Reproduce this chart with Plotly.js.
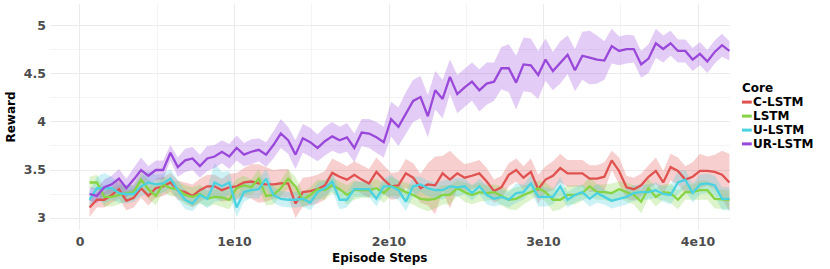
<!DOCTYPE html>
<html>
<head>
<meta charset="utf-8">
<script src="https://cdn.plot.ly/plotly-3.0.1.min.js"></script>
<style>
  html, body { margin: 0; padding: 0; background: #fff; }
  #chart { width: 830px; height: 269px; }
</style>
</head>
<body>
<div id="chart"></div>
<script>
// Episode steps (in units of 1e8)
const stepsE8 = [6.20,10.96,15.72,20.48,25.24,30.00,34.76,39.52,44.28,49.04,53.80,58.56,63.32,68.08,72.84,77.60,82.36,87.12,91.88,96.64,101.40,106.16,110.92,115.68,120.44,125.20,129.96,134.72,139.48,144.24,149.00,153.76,158.52,163.28,168.04,172.80,177.56,182.32,187.08,191.84,196.60,201.36,206.12,210.88,215.64,220.40,225.16,229.92,234.68,239.44,244.20,248.96,253.72,258.48,263.24,268.00,272.76,277.52,282.28,287.04,291.80,296.56,301.32,306.08,310.84,315.60,320.36,325.12,329.88,334.64,339.40,344.16,348.92,353.68,358.44,363.20,367.96,372.72,377.48,382.24,387.00,391.76,396.52,401.28,406.04,410.80,415.56,420.32];

const seriesNames = ["C-LSTM", "LSTM", "U-LSTM", "UR-LSTM"];

const cLstm = [3.11,3.19,3.19,3.24,3.30,3.18,3.21,3.31,3.23,3.31,3.33,3.37,3.29,3.27,3.23,3.29,3.33,3.33,3.29,3.32,3.33,3.37,3.38,3.36,3.35,3.35,3.36,3.36,3.15,3.27,3.28,3.30,3.34,3.47,3.43,3.40,3.45,3.40,3.36,3.48,3.40,3.33,3.34,3.465,3.42,3.31,3.35,3.34,3.465,3.40,3.465,3.42,3.44,3.465,3.38,3.28,3.32,3.45,3.50,3.42,3.48,3.30,3.40,3.44,3.52,3.465,3.465,3.465,3.41,3.41,3.43,3.60,3.49,3.32,3.30,3.34,3.43,3.49,3.37,3.53,3.49,3.40,3.43,3.49,3.49,3.48,3.45,3.37];
const cLstmSpread = [0.1,0.08,0.08,0.08,0.1,0.1,0.1,0.1,0.1,0.1,0.1,0.1,0.1,0.1,0.12,0.12,0.12,0.12,0.12,0.14,0.14,0.15,0.18,0.2,0.18,0.15,0.15,0.15,0.15,0.15,0.15,0.15,0.15,0.15,0.15,0.14,0.14,0.15,0.15,0.15,0.15,0.14,0.14,0.15,0.15,0.15,0.22,0.3,0.18,0.3,0.16,0.14,0.14,0.14,0.14,0.12,0.12,0.12,0.12,0.12,0.14,0.15,0.14,0.15,0.15,0.14,0.14,0.14,0.14,0.14,0.15,0.1,0.14,0.12,0.12,0.12,0.12,0.14,0.12,0.14,0.14,0.14,0.15,0.18,0.15,0.18,0.25,0.3];

const lstm = [3.37,3.37,3.22,3.22,3.24,3.26,3.27,3.40,3.30,3.23,3.35,3.31,3.30,3.24,3.22,3.25,3.20,3.22,3.215,3.19,3.31,3.34,3.32,3.41,3.23,3.24,3.31,3.41,3.33,3.19,3.24,3.30,3.29,3.34,3.30,3.24,3.29,3.29,3.29,3.31,3.26,3.33,3.31,3.27,3.24,3.20,3.19,3.20,3.24,3.24,3.31,3.27,3.24,3.27,3.26,3.27,3.23,3.19,3.20,3.24,3.27,3.31,3.27,3.19,3.19,3.24,3.24,3.26,3.33,3.27,3.27,3.26,3.30,3.27,3.24,3.17,3.31,3.22,3.27,3.26,3.19,3.27,3.27,3.29,3.29,3.20,3.195,3.19];
const lstmSpread = [0.06,0.08,0.1,0.1,0.1,0.08,0.08,0.08,0.1,0.1,0.08,0.08,0.08,0.1,0.1,0.1,0.08,0.08,0.1,0.1,0.1,0.1,0.08,0.1,0.1,0.1,0.08,0.1,0.1,0.08,0.08,0.1,0.1,0.08,0.08,0.1,0.1,0.08,0.08,0.1,0.1,0.1,0.08,0.1,0.1,0.1,0.12,0.1,0.1,0.1,0.08,0.1,0.1,0.1,0.08,0.08,0.1,0.1,0.12,0.1,0.08,0.08,0.1,0.12,0.1,0.1,0.1,0.08,0.1,0.08,0.08,0.1,0.08,0.1,0.1,0.12,0.1,0.1,0.08,0.1,0.1,0.08,0.08,0.1,0.1,0.1,0.1,0.1];

const uLstm = [3.19,3.31,3.31,3.31,3.26,3.25,3.25,3.33,3.37,3.35,3.36,3.41,3.29,3.19,3.15,3.24,3.20,3.37,3.33,3.37,3.11,3.27,3.29,3.30,3.41,3.24,3.20,3.19,3.19,3.20,3.16,3.27,3.31,3.38,3.19,3.19,3.30,3.30,3.30,3.20,3.33,3.33,3.29,3.17,3.33,3.35,3.31,3.29,3.29,3.33,3.32,3.33,3.26,3.33,3.24,3.20,3.22,3.19,3.26,3.27,3.36,3.22,3.22,3.22,3.33,3.19,3.24,3.27,3.20,3.26,3.22,3.18,3.20,3.22,3.26,3.27,3.27,3.29,3.25,3.24,3.37,3.40,3.26,3.35,3.36,3.34,3.20,3.20];
const uLstmSpread = [0.08,0.12,0.16,0.12,0.1,0.1,0.08,0.1,0.12,0.1,0.1,0.1,0.1,0.1,0.08,0.08,0.1,0.2,0.15,0.12,0.1,0.1,0.08,0.1,0.1,0.08,0.08,0.08,0.08,0.08,0.08,0.1,0.08,0.1,0.1,0.08,0.08,0.08,0.08,0.08,0.08,0.12,0.1,0.1,0.1,0.08,0.08,0.08,0.1,0.08,0.1,0.08,0.08,0.08,0.1,0.08,0.08,0.08,0.1,0.08,0.08,0.1,0.1,0.08,0.1,0.08,0.08,0.08,0.08,0.1,0.08,0.08,0.08,0.08,0.08,0.08,0.08,0.08,0.08,0.1,0.12,0.1,0.1,0.1,0.1,0.1,0.12,0.12];

const urLstm = [3.25,3.23,3.32,3.35,3.41,3.31,3.40,3.50,3.44,3.50,3.50,3.68,3.53,3.60,3.62,3.54,3.62,3.64,3.69,3.64,3.73,3.66,3.69,3.71,3.66,3.76,3.88,3.81,3.66,3.83,3.79,3.73,3.80,3.85,3.81,3.84,3.73,3.89,3.88,3.84,3.79,4.03,3.95,4.09,4.22,4.26,4.06,4.33,4.24,4.47,4.29,4.36,4.42,4.33,4.40,4.42,4.56,4.56,4.41,4.60,4.59,4.49,4.65,4.53,4.62,4.70,4.54,4.69,4.67,4.65,4.64,4.79,4.74,4.76,4.76,4.60,4.66,4.82,4.76,4.82,4.74,4.74,4.65,4.71,4.63,4.73,4.80,4.74];
const urLstmSpread = [0.07,0.08,0.08,0.09,0.1,0.1,0.12,0.13,0.1,0.1,0.1,0.08,0.1,0.12,0.12,0.12,0.13,0.12,0.12,0.13,0.13,0.12,0.13,0.12,0.13,0.14,0.15,0.14,0.15,0.15,0.15,0.14,0.15,0.15,0.14,0.15,0.15,0.14,0.15,0.16,0.16,0.18,0.2,0.22,0.22,0.22,0.22,0.2,0.2,0.18,0.2,0.2,0.2,0.22,0.22,0.2,0.22,0.25,0.28,0.28,0.28,0.25,0.22,0.2,0.22,0.2,0.22,0.25,0.28,0.25,0.2,0.18,0.15,0.15,0.14,0.14,0.15,0.15,0.14,0.13,0.12,0.12,0.12,0.12,0.12,0.12,0.12,0.1];

const xTickVals = [0, 1e10, 2e10, 3e10, 4e10];
const xTickText = ["0", "1e10", "2e10", "3e10", "4e10"];
const yTickVals = [3, 3.5, 4, 4.5, 5];
const yTickText = ["3", "3.5", "4", "4.5", "5"];

const colors = ["#E0524F", "#86D443", "#4BD2E0", "#9A48DA"];
const fills = ["rgba(224,82,79,0.28)", "rgba(134,212,67,0.28)", "rgba(75,210,224,0.28)", "rgba(154,72,218,0.28)"];

const steps = stepsE8.map(v => v * 1e8);
const means = [cLstm, lstm, uLstm, urLstm];
const spreads = [cLstmSpread, lstmSpread, uLstmSpread, urLstmSpread];

const traces = [];
means.forEach((m, k) => {
  const upper = m.map((v, i) => v + spreads[k][i]);
  const lower = m.map((v, i) => v - spreads[k][i]);
  traces.push({
    x: steps.concat(steps.slice().reverse()),
    y: upper.concat(lower.slice().reverse()),
    type: "scatter", mode: "lines", fill: "toself",
    fillcolor: fills[k], line: { width: 0, color: "rgba(0,0,0,0)" },
    hoverinfo: "skip", showlegend: false
  });
});
means.forEach((m, k) => {
  traces.push({
    x: steps, y: m, type: "scatter", mode: "lines",
    name: seriesNames[k],
    line: { color: colors[k], width: 2.3 },
    showlegend: false
  });
});

const FONT = "DejaVu Sans, sans-serif";
const annotations = [{
  xref: "paper", yref: "paper", x: 1.0165, y: 0.628,
  xanchor: "left", yanchor: "middle", showarrow: false, borderpad: 0,
  text: "<b>Core</b>", font: { family: FONT, size: 12, color: "#000" }
}, {
  xref: "paper", yref: "paper", x: 0.484, y: -0.124,
  xanchor: "center", yanchor: "middle", showarrow: false, borderpad: 0,
  text: "<b>Episode Steps</b>", font: { family: FONT, size: 12, color: "#000" }
}];
const shapes = [];
const legY = [0.566, 0.504, 0.442, 0.381];
seriesNames.forEach((n, k) => {
  annotations.push({
    xref: "paper", yref: "paper", x: 1.0325, y: legY[k],
    xanchor: "left", yanchor: "middle", showarrow: false, borderpad: 0,
    text: "<b>" + n + "</b>", font: { family: FONT, size: 12, color: "#000" }
  });
  shapes.push({
    type: "line", xref: "paper", yref: "paper",
    x0: 1.0176, x1: 1.0320, y0: legY[k], y1: legY[k],
    line: { color: colors[k], width: 3 }
  });
});

const layout = {
  width: 830, height: 269,
  margin: { l: 50, r: 100, t: 4, b: 39 },
  paper_bgcolor: "#ffffff", plot_bgcolor: "#ffffff",
  showlegend: false,
  font: { family: FONT },
  xaxis: {
    range: [-0.194e10, 4.207e10],
    tickvals: xTickVals, ticktext: xTickText,
    tickfont: { family: FONT, size: 12.5, color: "#4d4d4d", weight: "bold" },
    ticklabelstandoff: 2,
    showgrid: true, gridcolor: "#ebebeb", gridwidth: 1,
    minor: { tickvals: [0.5e10, 1.5e10, 2.5e10, 3.5e10], showgrid: true, gridcolor: "#f4f4f4", gridwidth: 1 },
    zeroline: false, showline: false, ticks: ""
  },
  yaxis: {
    range: [2.875, 5.229],
    tickvals: yTickVals, ticktext: yTickText,
    tickfont: { family: FONT, size: 12.5, color: "#4d4d4d", weight: "bold" },
    ticklabelstandoff: 3,
    showgrid: true, gridcolor: "#ebebeb", gridwidth: 1,
    minor: { tickvals: [3.25, 3.75, 4.25, 4.75], showgrid: true, gridcolor: "#f4f4f4", gridwidth: 1 },
    zeroline: false, showline: false, ticks: "",
    title: { text: "<b>Reward</b>", font: { family: FONT, size: 12, color: "#000" }, standoff: 5 }
  },
  annotations: annotations,
  shapes: shapes
};

Plotly.newPlot("chart", traces, layout, { displayModeBar: false, staticPlot: true });
</script>
</body>
</html>
